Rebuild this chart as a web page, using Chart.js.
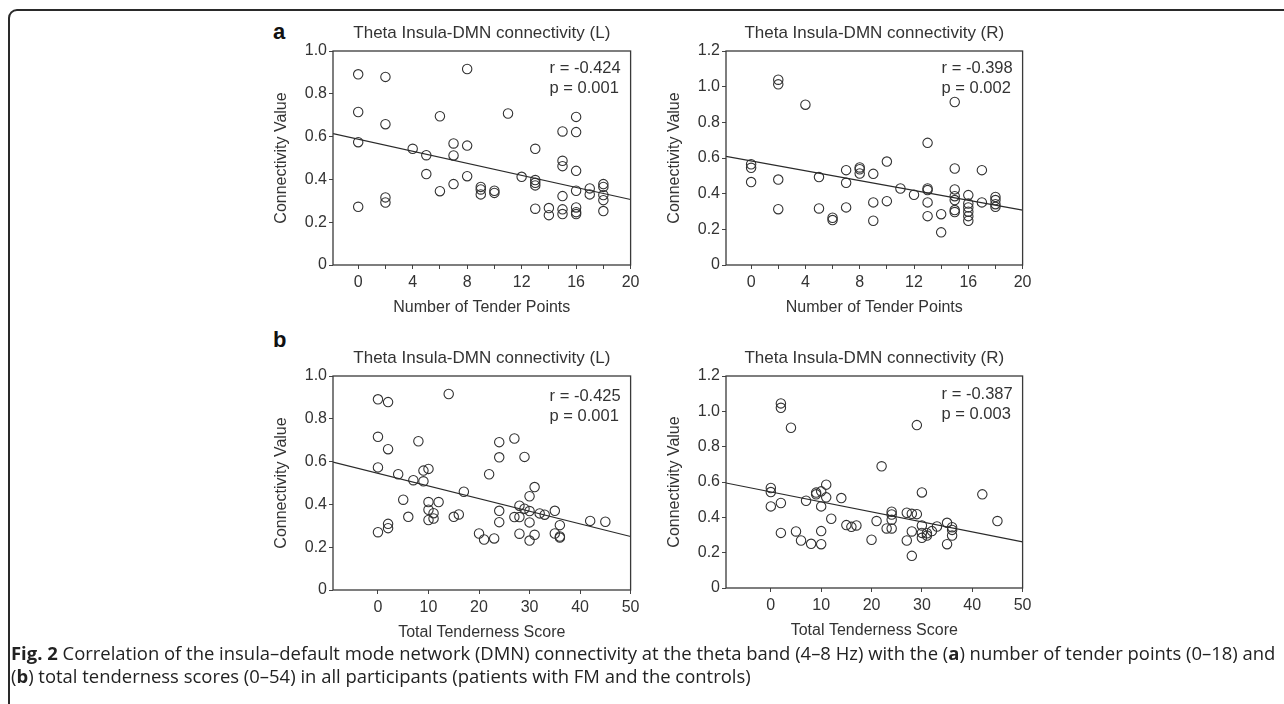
<!DOCTYPE html>
<html><head><meta charset="utf-8">
<script src="https://cdn.jsdelivr.net/npm/chart.js@4.4.1/dist/chart.umd.min.js"></script>
<style>
html,body{margin:0;padding:0;background:#fff;width:1284px;height:704px;overflow:hidden;position:relative;}
.frame{position:absolute;left:8px;top:9px;width:1300px;height:720px;border:2px solid #2a2a2a;border-top-left-radius:9px;box-sizing:border-box;}
canvas{position:absolute;}
.lbl{position:absolute;font:bold 22px "Liberation Sans",Arial,sans-serif;line-height:22px;color:#111;}
.cap{position:absolute;left:11px;top:641px;font-family:"Open Sans",sans-serif;font-size:16px;line-height:23px;color:#222;white-space:nowrap;}
.cap b{font-weight:700;}
</style></head><body>
<div class="frame"></div>
<div class="lbl" style="left:273px;top:21px">a</div>
<div class="lbl" style="left:273px;top:329px">b</div>
<canvas id="cA_L"></canvas>
<canvas id="cA_R"></canvas>
<canvas id="cB_L"></canvas>
<canvas id="cB_R"></canvas>
<div class="cap" id="cap"><span id="l1"><b>Fig. 2</b> Correlation of the insula–default mode network (DMN) connectivity at the theta band (4–8 Hz) with the (<b>a</b>) number of tender points (0–18) and</span><br><span id="l2">(<b>b</b>) total tenderness scores (0–54) in all participants (patients with FM and the controls)</span></div>
<script>
// ---------- data ----------
const tenderA_L = [0,0,0,0, 2,2,2,2, 4, 5,5, 6,6, 7,7,7, 8,8,8, 9,9,9, 10,10, 11, 12, 13,13,13,13,13, 14,14, 15,15,15,15,15,15, 16,16,16,16,16,16,16, 17,17, 18,18,18,18,18];
const connA_L = [0.891,0.715,0.574,0.272, 0.879,0.658,0.316,0.292, 0.543, 0.513,0.425, 0.695,0.345, 0.568,0.512,0.378, 0.916,0.558,0.415, 0.365,0.353,0.330, 0.347,0.337, 0.708, 0.412, 0.543,0.397,0.384,0.372,0.263, 0.266,0.233, 0.624,0.487,0.462,0.322,0.260,0.238, 0.692,0.621,0.440,0.347,0.269,0.247,0.238, 0.358,0.330, 0.378,0.365,0.327,0.303,0.252];

const tenderA_R = [0,0,0, 2,2,2,2, 4, 5,5, 6,6, 7,7,7, 8,8,8, 9,9,9, 10,10, 11, 12, 13,13,13,13,13, 14,14, 15,15,15,15,15,15,15, 16,16,16,16,16,16, 17,17, 18,18,18,18];
const connA_R = [0.565,0.545,0.465, 1.039,1.013,0.479,0.313, 0.899, 0.493,0.317, 0.265,0.252, 0.532,0.461,0.323, 0.547,0.537,0.513, 0.511,0.351,0.248, 0.580,0.358, 0.429, 0.394, 0.685,0.429,0.420,0.351,0.274, 0.285,0.183, 0.914,0.541,0.424,0.386,0.364,0.308,0.297, 0.392,0.345,0.323,0.299,0.274,0.248, 0.532,0.351, 0.382,0.364,0.341,0.326];

const scoreB_L = [0,0,0,0, 2,2,2,2, 4, 5, 6, 7, 8, 9,9, 10,10,10,10, 11,11, 12, 14, 15, 16, 17, 20, 21, 22, 23, 24,24,24,24, 27,27, 28,28,28, 29,29, 30,30,30,30, 31,31, 32, 33, 35,35, 36,36,36, 42, 45];
const connB_L = [0.891,0.716,0.573,0.270, 0.878,0.658,0.309,0.289, 0.541, 0.422, 0.342, 0.513, 0.695, 0.558,0.508, 0.566,0.411,0.375,0.327, 0.359,0.334, 0.411, 0.916, 0.342, 0.353, 0.459, 0.264, 0.236, 0.541, 0.241, 0.691,0.620,0.370,0.317, 0.708,0.341, 0.394,0.341,0.263, 0.622,0.380, 0.438,0.369,0.316,0.231, 0.481,0.258, 0.358, 0.352, 0.370,0.264, 0.303,0.250,0.245, 0.323, 0.319];

const scoreB_R = [0,0,0, 2,2,2,2, 4, 5, 6, 7, 8, 9,9, 10,10,10,10, 11,11, 12, 14, 15, 16, 17, 20, 21, 22, 23, 24,24,24,24, 27,27, 28,28,28, 29,29, 30,30,30,30, 31,31, 32, 33, 35,35, 36,36,36, 42, 45];
const connB_R = [0.566,0.543,0.462, 1.045,1.020,0.481,0.312, 0.907, 0.320, 0.269, 0.494, 0.250, 0.540,0.530, 0.547,0.462,0.322,0.248, 0.585,0.513, 0.392, 0.509, 0.356, 0.346, 0.354, 0.273, 0.379, 0.689, 0.337, 0.432,0.416,0.386,0.337, 0.426,0.269, 0.420,0.320,0.182, 0.922,0.418, 0.541,0.354,0.312,0.284, 0.310,0.297, 0.322, 0.348, 0.369,0.248, 0.344,0.329,0.297, 0.530, 0.379];

// regression fits: [intercept, slope]
const fitA_L = [0.588, -0.0141];
const fitA_R = [0.584, -0.01382];
const fitB_L = [0.545, -0.0059];
const fitB_R = [0.544, -0.00566];

// correlation stats
const rValues = ['-0.424', '-0.398', '-0.425', '-0.387'];
const pValues = ['0.001', '0.002', '0.001', '0.003'];

// tick labels
const xTicksTender = [0,2,4,6,8,10,12,14,16,18,20];
const xLabelsTender = [0,4,8,12,16,20];
const xTicksScore = [0,10,20,30,40,50];
const xLabelsScore = [0,10,20,30,40,50];
const yTicksL = [0,0.2,0.4,0.6,0.8,1.0];
const yTicksR = [0,0.2,0.4,0.6,0.8,1.0,1.2];

const titleL = 'Theta Insula-DMN connectivity (L)';
const titleR = 'Theta Insula-DMN connectivity (R)';
const xTitleA = 'Number of Tender Points';
const xTitleB = 'Total Tenderness Score';
const yTitle = 'Connectivity Value';

// ---------- drawing ----------
Chart.defaults.font.family = '"Liberation Sans", Arial, sans-serif';
Chart.defaults.color = '#333';

const boxPlugin = {
  id: 'boxStats',
  afterDraw(chart, args, opts) {
    const {ctx, chartArea: a} = chart;
    ctx.save();
    ctx.strokeStyle = '#3a3a3a';
    ctx.lineWidth = 1.3;
    ctx.strokeRect(a.left, a.top, a.right - a.left, a.bottom - a.top);
    ctx.fillStyle = '#333';
    ctx.font = '16.5px "Liberation Sans", Arial, sans-serif';
    ctx.textBaseline = 'middle';
    ctx.textAlign = 'left';
    ctx.fillText('r = ' + opts.r, a.right - 81, a.top + opts.dy);
    ctx.fillText('p = ' + opts.p, a.right - 81, a.top + opts.dy + 20);
    ctx.restore();
  }
};

const TOPH = 29, YW = 71, XH = 53, RP = 12;

function makePanel(id, area, xs, ys, fit, xMin, xMax, xTicks, xLabels, yTicks, yMax, title, xTitle, r, p, dy) {
  const cv = document.getElementById(id);
  const left = area.left - YW, top = area.top - TOPH;
  const w = area.right + RP - left, h = area.bottom + XH - top;
  cv.width = w; cv.height = h;
  cv.style.left = left + 'px'; cv.style.top = top + 'px';
  cv.style.width = w + 'px'; cv.style.height = h + 'px';
  const pts = xs.map((x, i) => ({x: x, y: ys[i]}));
  const line = [xMin, xMax].map(x => ({x: x, y: fit[0] + fit[1] * x}));
  new Chart(cv, {
    type: 'scatter',
    data: {datasets: [
      {type: 'line', data: line, borderColor: '#2a2a2a', borderWidth: 1.2, pointRadius: 0, fill: false, showLine: true},
      {data: pts, pointRadius: 4.7, pointBorderWidth: 1.1, borderColor: '#333', backgroundColor: 'rgba(0,0,0,0)', pointBackgroundColor: 'rgba(0,0,0,0)', pointBorderColor: '#333'}
    ]},
    options: {
      responsive: false, animation: false, devicePixelRatio: 1,
      layout: {padding: {left: 0, right: RP, top: 0, bottom: 0}},
      plugins: {
        legend: {display: false}, tooltip: {enabled: false},
        title: {display: true, text: title, fullSize: false, color: '#333',
          font: {size: 17, weight: 'normal'}, padding: {top: 1.1, bottom: 7.5}},
        boxStats: {r: r, p: p, dy: dy}
      },
      scales: {
        x: {
          type: 'linear', min: xMin, max: xMax,
          afterBuildTicks: ax => { ax.ticks = xTicks.map(v => ({value: v})); },
          afterFit: s => { s.height = XH; },
          ticks: {autoSkip: false, maxRotation: 0, padding: 3.5, color: '#333', font: {size: 16},
            callback: v => xLabels.includes(v) ? String(v) : ''},
          grid: {drawOnChartArea: false, drawTicks: true, tickLength: 4, color: '#444', lineWidth: 1},
          border: {display: false},
          title: {display: true, text: xTitle, color: '#333', font: {size: 16}, padding: {top: 0, bottom: 0.5}}
        },
        y: {
          type: 'linear', min: 0, max: yMax,
          afterBuildTicks: ax => { ax.ticks = yTicks.map(v => ({value: v})); },
          afterFit: s => { s.width = YW; },
          ticks: {autoSkip: false, padding: 2, color: '#333', font: {size: 16},
            callback: v => v === 0 ? '0' : Number(v).toFixed(1)},
          grid: {drawOnChartArea: false, drawTicks: true, tickLength: 4, color: '#444', lineWidth: 1},
          border: {display: false},
          title: {display: true, text: yTitle, color: '#333', font: {size: 16}, padding: {top: 10, bottom: 0}}
        }
      }
    },
    plugins: [boxPlugin]
  });
}

makePanel('cA_L', {left: 333, top: 51, right: 631, bottom: 265}, tenderA_L, connA_L, fitA_L, -1.85, 20,
  xTicksTender, xLabelsTender, yTicksL, 1.0, titleL, xTitleA, rValues[0], pValues[0], 17.5);
makePanel('cA_R', {left: 726, top: 51, right: 1023, bottom: 265}, tenderA_R, connA_R, fitA_R, -1.85, 20,
  xTicksTender, xLabelsTender, yTicksR, 1.2, titleR, xTitleA, rValues[1], pValues[1], 17.5);
makePanel('cB_L', {left: 333, top: 376, right: 631, bottom: 590}, scoreB_L, connB_L, fitB_L, -8.9, 50,
  xTicksScore, xLabelsScore, yTicksL, 1.0, titleL, xTitleB, rValues[2], pValues[2], 20);
makePanel('cB_R', {left: 726, top: 376, right: 1023, bottom: 588}, scoreB_R, connB_R, fitB_R, -8.9, 50,
  xTicksScore, xLabelsScore, yTicksR, 1.2, titleR, xTitleB, rValues[3], pValues[3], 18.5);

// fit caption first line to the frame width
(function () {
  const cap = document.getElementById('cap');
  const l1 = document.getElementById('l1');
  const w = l1.getBoundingClientRect().width;
  if (w > 0) cap.style.fontSize = (16 * 1265 / w).toFixed(2) + 'px';
})();
</script>
</body></html>
